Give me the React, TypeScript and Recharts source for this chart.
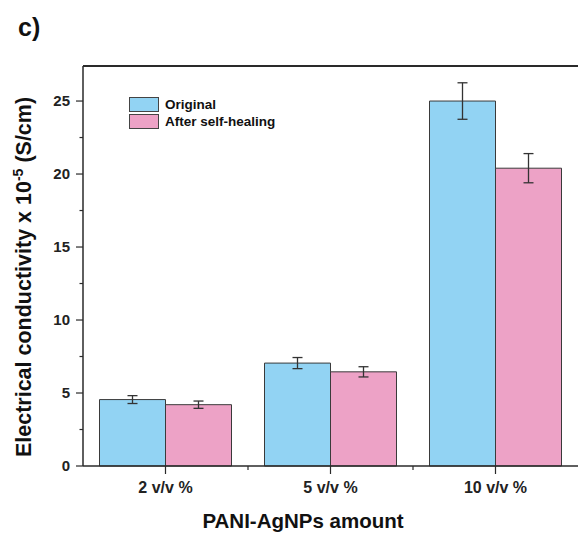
import { BarChart, Bar, XAxis, YAxis, ErrorBar, ReferenceLine } from "recharts";

const categories = ["2 v/v %", "5 v/v %", "10 v/v %"];
const original = [4.55, 7.05, 25.0];
const originalErr = [0.27, 0.38, 1.25];
const healed = [4.2, 6.45, 20.4];
const healedErr = [0.25, 0.35, 1.0];
const yTicks = [0, 2.5, 5, 7.5, 10, 12.5, 15, 17.5, 20, 22.5, 25];
const yMax = 27.4;

const series = [
  { key: "original", name: "Original", color: "#92D3F3" },
  { key: "healed", name: "After self-healing", color: "#EDA2C6" },
];

const data = categories.map((name, i) => ({
  name,
  original: original[i],
  originalErr: originalErr[i],
  healed: healed[i],
  healedErr: healedErr[i],
}));

const FONT = "'Liberation Sans', Arial, sans-serif";
const AXIS = "#2a2a2a";
const BAND = 165;

const YTick = ({ x, y, payload }: any) => {
  const major = payload.value % 5 === 0;
  return (
    <g>
      <line x1={x - (major ? 7 : 3.5)} x2={x} y1={y} y2={y} stroke={AXIS} strokeWidth={1.2} />
      {major && (
        <text x={x - 13} y={y} dy="0.36em" textAnchor="end" fontSize={15} fontWeight="bold" fill="#222" fontFamily={FONT}>
          {payload.value}
        </text>
      )}
    </g>
  );
};

const XTick = ({ x, y, payload, index }: any) => (
  <g>
    <line x1={x} x2={x} y1={y} y2={y + 8} stroke={AXIS} strokeWidth={1.2} />
    {index < categories.length - 1 && (
      <line x1={x + BAND / 2} x2={x + BAND / 2} y1={y} y2={y + 4} stroke={AXIS} strokeWidth={1.2} />
    )}
    <text x={x} y={y + 27} textAnchor="middle" fontSize={16} fontWeight="bold" fill="#222" fontFamily={FONT}>
      {payload.value}
    </text>
  </g>
);

const YLabel = () => (
  <text
    transform="translate(31, 277) rotate(-90)"
    textAnchor="middle"
    fontSize={21.5}
    fontWeight="bold"
    fill="#111"
    fontFamily={FONT}
  >
    Electrical conductivity x 10
    <tspan fontSize={14} dy={-8}>-5</tspan>
    <tspan dy={8}> (S/cm)</tspan>
  </text>
);

const XLabel = () => (
  <text x={303} y={528} textAnchor="middle" fontSize={20.5} fontWeight="bold" fill="#111" fontFamily={FONT}>
    PANI-AgNPs amount
  </text>
);

const App = () => {
  return (
    <div style={{ position: "fixed", left: 0, top: 0, width: 579, height: 535, fontFamily: FONT, background: "#fff" }}>
      <div style={{ position: "absolute", left: 18, top: 13, fontSize: 25, fontWeight: "bold", color: "#111" }}>c)</div>
      <BarChart
        width={579}
        height={535}
        data={data}
        margin={{ top: 66, right: 1, bottom: 0, left: 0 }}
        barCategoryGap="10%"
        barGap={0}
      >
        <XAxis
          dataKey="name"
          height={69}
          axisLine={{ stroke: AXIS, strokeWidth: 1.5 }}
          tickLine={false}
          tickSize={0}
          tickMargin={0}
          tick={<XTick />}
          interval={0}
          label={<XLabel />}
        />
        <YAxis
          width={83}
          domain={[0, yMax]}
          ticks={yTicks}
          interval={0}
          axisLine={{ stroke: AXIS, strokeWidth: 1.5 }}
          tickLine={false}
          tickSize={0}
          tickMargin={0}
          tick={<YTick />}
          label={<YLabel />}
        />
        <YAxis
          yAxisId="right"
          orientation="right"
          width={0}
          tick={false}
          tickLine={false}
          axisLine={{ stroke: "#c4c4c4", strokeWidth: 1 }}
        />
        <ReferenceLine y={yMax} stroke={AXIS} strokeWidth={1.8} ifOverflow="visible" />
        {series.map((s) => (
          <Bar
            key={s.key}
            dataKey={s.key}
            name={s.name}
            fill={s.color}
            stroke="#3a3a3a"
            strokeWidth={1}
            isAnimationActive={false}
          >
            <ErrorBar dataKey={s.key + "Err"} width={5} stroke="#333" strokeWidth={1.3} />
          </Bar>
        ))}
      </BarChart>
      <div style={{ position: "absolute", left: 129, top: 97, display: "flex", flexDirection: "column", gap: 3 }}>
        {series.map((s) => (
          <div key={s.key} style={{ display: "flex", alignItems: "center", height: 14 }}>
            <span
              style={{
                display: "inline-block",
                width: 30,
                height: 15,
                background: s.color,
                border: "1px solid #444",
                boxSizing: "border-box",
              }}
            />
            <span style={{ marginLeft: 6, fontSize: 13.5, fontWeight: "bold", color: "#111" }}>{s.name}</span>
          </div>
        ))}
      </div>
    </div>
  );
};

export default App;
